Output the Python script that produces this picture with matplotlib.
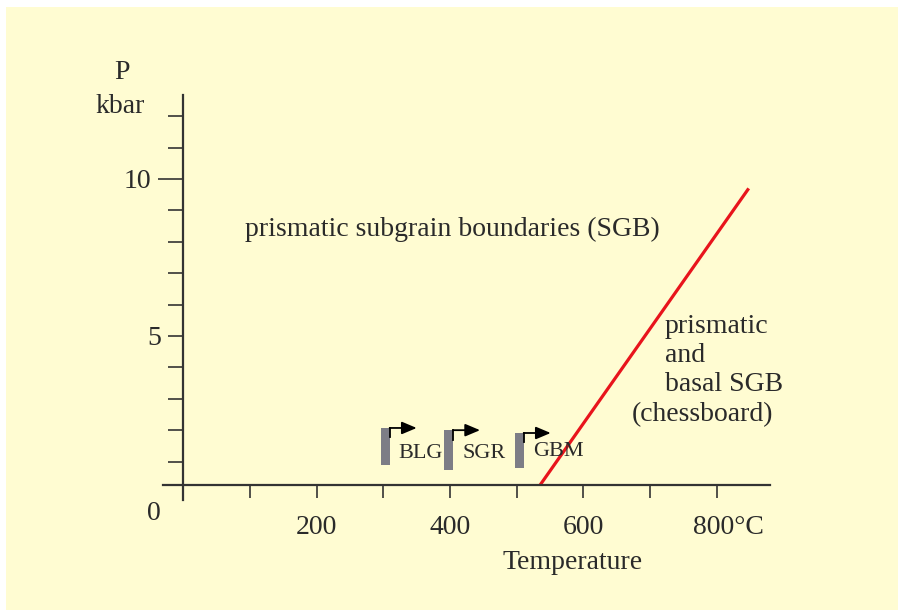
import matplotlib
matplotlib.use("Agg")
import matplotlib.pyplot as plt
import matplotlib.patches as mpatches
import matplotlib.transforms as mtransforms

plt.rcParams["font.family"] = ["Liberation Serif", "DejaVu Serif"]

# boundary between the two subgrain regimes (red line)
boundary_T = [535, 848]
boundary_P = [0.25, 9.7]

# recrystallisation mechanism markers
mech_labels = ["BLG", "SGR", "GBM"]
mech_T = [296, 391, 497]
mech_P_low = [0.89, 0.73, 0.80]
mech_P_high = [2.07, 2.00, 1.91]
mech_label_T = [322, 418, 524]
mech_label_P = [1.27, 1.27, 1.33]

x_major = [200, 400, 600, 800]
x_major_labels = ["200", "400", "600", "800°C"]
x_minor = [100, 300, 500, 700]
y_minor = [1, 2, 3, 4, 5, 6, 7, 8, 9, 11, 12]
y_minor_labels = ["", "", "", "", "5", "", "", "", "", "", ""]

right_lines = ["prismatic", "and", "basal SGB", "(chessboard)"]
right_T = [722, 722, 722, 673]
right_P = [5.29, 4.39, 3.44, 2.48]

txt_col = "#2a2a2a"
ax_col = "#333333"

fig = plt.figure(figsize=(8.98, 6.10), dpi=100)
fig.patch.set_facecolor("white")
fig.patches.append(mpatches.Rectangle((6 / 898, 0), 1, 1 - 7 / 610,
                                      transform=fig.transFigure,
                                      facecolor="#fffcd2", edgecolor="none",
                                      zorder=-10))

ax = fig.add_axes([0.1596, 0.0889, 0.787, 0.8236])
ax.set_facecolor("none")
ax.set_xlim(-60, 1000)
ax.set_ylim(-2, 14)

for s in ["top", "right"]:
    ax.spines[s].set_visible(False)
ax.spines["left"].set_position(("data", 0))
ax.spines["bottom"].set_position(("data", 0.25))
ax.spines["left"].set_bounds(-0.22, 12.68)
ax.spines["bottom"].set_bounds(-30, 880)
for s in ["left", "bottom"]:
    ax.spines[s].set_color(ax_col)
    ax.spines[s].set_linewidth(1.6)

ax.set_xticks(x_major, labels=x_major_labels)
ax.set_xticks(x_minor, minor=True)
ax.set_yticks([10], labels=["10"])
ax.set_yticks(y_minor, labels=y_minor_labels, minor=True)

ax.tick_params(axis="x", which="both", direction="out", length=9.4, width=1.2,
               color=ax_col, labelsize=20, labelcolor=txt_col, pad=12)
ax.tick_params(axis="y", which="minor", direction="out", length=10.8, width=1.2,
               color=ax_col, labelsize=20, labelcolor=txt_col, pad=5)
ax.tick_params(axis="y", which="major", direction="out", length=18, width=1.2,
               color=ax_col, labelsize=20, labelcolor=txt_col, pad=5)

# shift the "800°C" label so the number sits under its tick
lab = ax.get_xticklabels()[-1]
lab.set_horizontalalignment("left")
lab.set_transform(lab.get_transform() +
                  mtransforms.ScaledTranslation(-0.24, 0, fig.dpi_scale_trans))

ax.text(-44, -0.64, "0", fontsize=20, color=txt_col, ha="center", va="center")
ax.text(-92, 13.4, "P", fontsize=20, color=txt_col, ha="center", va="center")
ax.text(-95, 12.3, "kbar", fontsize=20, color=txt_col, ha="center", va="center")
ax.text(584, -2.23, "Temperature", fontsize=20, color=txt_col,
        ha="center", va="center", clip_on=False)

ax.plot(boundary_T, boundary_P, color="#e8141c", lw=2.3, solid_capstyle="butt")

ax.text(93, 8.38, "prismatic subgrain boundaries (SGB)", fontsize=20,
        color=txt_col, ha="left", va="center")
for line, t, p in zip(right_lines, right_T, right_P):
    ax.text(t, p, line, fontsize=20, color=txt_col, ha="left", va="center")

bar_w = 14
for lbl, t, lo, hi, lt, lp in zip(mech_labels, mech_T, mech_P_low, mech_P_high,
                                  mech_label_T, mech_label_P):
    ax.add_patch(mpatches.Rectangle((t, lo), bar_w, hi - lo,
                                    facecolor="#7d7d86", edgecolor="none"))
    ax.plot([t + bar_w, t + bar_w], [hi - 0.3, hi], color="black", lw=1.3)
    ax.annotate("", xy=(t + bar_w + 40, hi), xytext=(t + bar_w - 0.5, hi),
                arrowprops=dict(arrowstyle="-|>,head_length=0.9,head_width=0.38",
                                color="black", lw=1.3, shrinkA=0, shrinkB=0))
    ax.text(lt, lp, lbl, fontsize=16, color=txt_col, ha="left", va="center")

fig.savefig("out.png", dpi=100)
